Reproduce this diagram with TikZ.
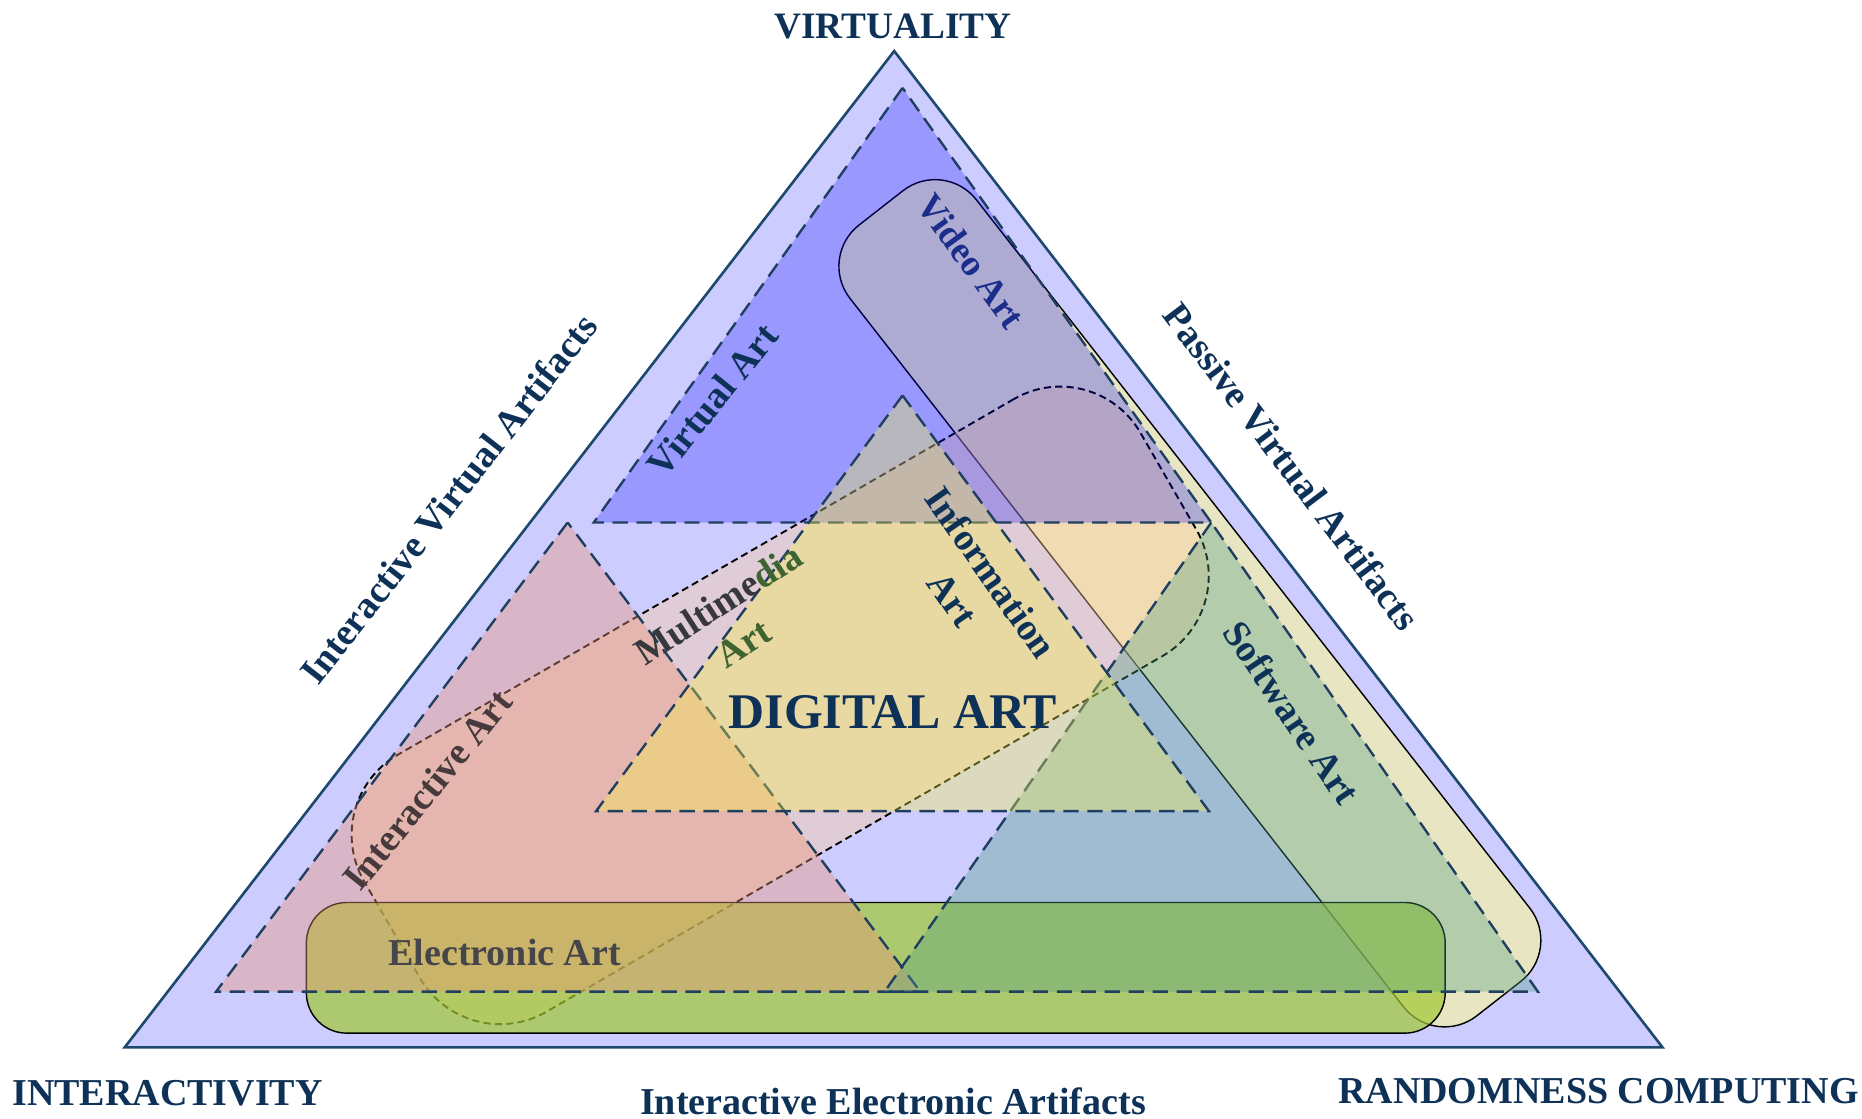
\documentclass[tikz,border=0pt]{standalone}
\usepackage{fontspec}
\setmainfont{Liberation Serif}
\definecolor{navy}{RGB}{14,50,87}
\definecolor{bigfill}{RGB}{204,204,255}
\definecolor{bigline}{RGB}{31,72,110}
\definecolor{dashline}{RGB}{32,62,95}
\definecolor{videofill}{RGB}{240,236,180}
\definecolor{mmfill}{RGB}{255,204,153}
\definecolor{elecfill}{RGB}{160,200,50}
\definecolor{topfill}{RGB}{0,0,255}
\definecolor{leftfill}{RGB}{234,149,117}
\definecolor{rightfill}{RGB}{80,160,130}
\definecolor{centerfill}{RGB}{249,243,69}
\definecolor{videotext}{RGB}{28,46,140}
\definecolor{mmgray}{RGB}{55,55,62}
\definecolor{mmgreen}{RGB}{62,100,48}
\definecolor{iagray}{RGB}{70,58,60}
\definecolor{eagray}{RGB}{70,70,74}
\tikzset{
  dtri/.style={draw=dashline, line width=1pt, dash pattern=on 6.5pt off 3.6pt, line join=miter},
  rbox/.style={rectangle, inner sep=0pt, draw=black, line width=0.6pt},
  lbl/.style={text=navy, font=\fontsize{16}{19.6}\selectfont\bfseries, inner sep=0pt, align=center},
  big/.style={text=navy, font=\fontsize{16}{19}\selectfont\bfseries, inner sep=0pt}
}
\begin{document}
\begin{tikzpicture}[x=0.5pt,y=-0.5pt]
\useasboundingbox (0,0) rectangle (1568,942.3);
\fill[white] (0,0) rectangle (1568,942.3);
% big triangle
\coordinate (A) at (753,43);
\coordinate (B) at (105,882);
\coordinate (C) at (1400,882);
\draw[draw=bigline, fill=bigfill, line width=1.1pt, line join=miter] (A)--(B)--(C)--cycle;
% rounded boxes
\node[rbox, fill=videofill, fill opacity=0.8, rotate=-52, minimum width=422.5pt, minimum height=67.5pt, rounded corners=22pt] (video) at (1002,508) {};
\node[rbox, fill=mmfill, fill opacity=0.4, rotate=30, minimum width=377.5pt, minimum height=125pt, rounded corners=39pt, line width=0.8pt, dash pattern=on 3pt off 1.8pt] (mm) at (657,594) {};
\node[rbox, fill=elecfill, fill opacity=0.7, minimum width=479.5pt, minimum height=55pt, rounded corners=17pt] (elec) at (737.5,815) {};
% triangles
\coordinate (T1) at (760,74);
\coordinate (T2) at (500,440);
\coordinate (T3) at (1020,440);
\draw[dtri, fill=topfill, fill opacity=0.25] (T1)--(T2)--(T3)--cycle;
\coordinate (L1) at (478,440);
\coordinate (L2) at (182,835);
\coordinate (L3) at (775,835);
\draw[dtri, fill=leftfill, fill opacity=0.4] (L1)--(L2)--(L3)--cycle;
\coordinate (R1) at (1020,440);
\coordinate (R2) at (745,835);
\coordinate (R3) at (1295,835);
\draw[dtri, fill=rightfill, fill opacity=0.35] (R1)--(R2)--(R3)--cycle;
\coordinate (C1) at (760,333);
\coordinate (C2) at (502,683);
\coordinate (C3) at (1018,683);
\draw[dtri, fill=centerfill, fill opacity=0.35] (C1)--(C2)--(C3)--cycle;
% outer labels
\node[big, font=\fontsize{15.7}{18}\selectfont\bfseries] (virt) at (752,22) {VIRTUALITY};
\node[big] (inter) at (141,921) {INTERACTIVITY};
\node[big] (iea) at (752,927) {Interactive Electronic Artifacts};
\node[big] (rand) at (1346,919) {RANDOMNESS COMPUTING};
\node[lbl, rotate=52] (iva) at (378,420) {Interactive Virtual Artifacts};
\node[lbl, rotate=-53] (pva) at (1088,393) {Passive Virtual Artifacts};
% inner labels
\node[lbl, rotate=51] (va) at (600,337) {Virtual Art};
\node[lbl, rotate=-54, text=videotext, font=\fontsize{15.5}{18}\selectfont\bfseries] (vid) at (818,220) {Video Art};
\node[lbl, rotate=-55] (info) at (818.5,493) {Information\\Art};
\node[lbl, rotate=-56] (soft) at (1088,600) {Software Art};
\node[lbl, rotate=33] (mmt) at (615.5,525) {\textcolor{mmgray}{Multime}\textcolor{mmgreen}{dia}\\\textcolor{mmgreen}{Art}};
\node[lbl, rotate=51, text=iagray] (ia) at (360,665) {Interactive Art};
\node[lbl, text=eagray] (ea) at (425,802) {Electronic Art};
\node[lbl, font=\fontsize{21}{24}\selectfont\bfseries] (da) at (752,600) {DIGITAL ART};
\end{tikzpicture}
\end{document}
